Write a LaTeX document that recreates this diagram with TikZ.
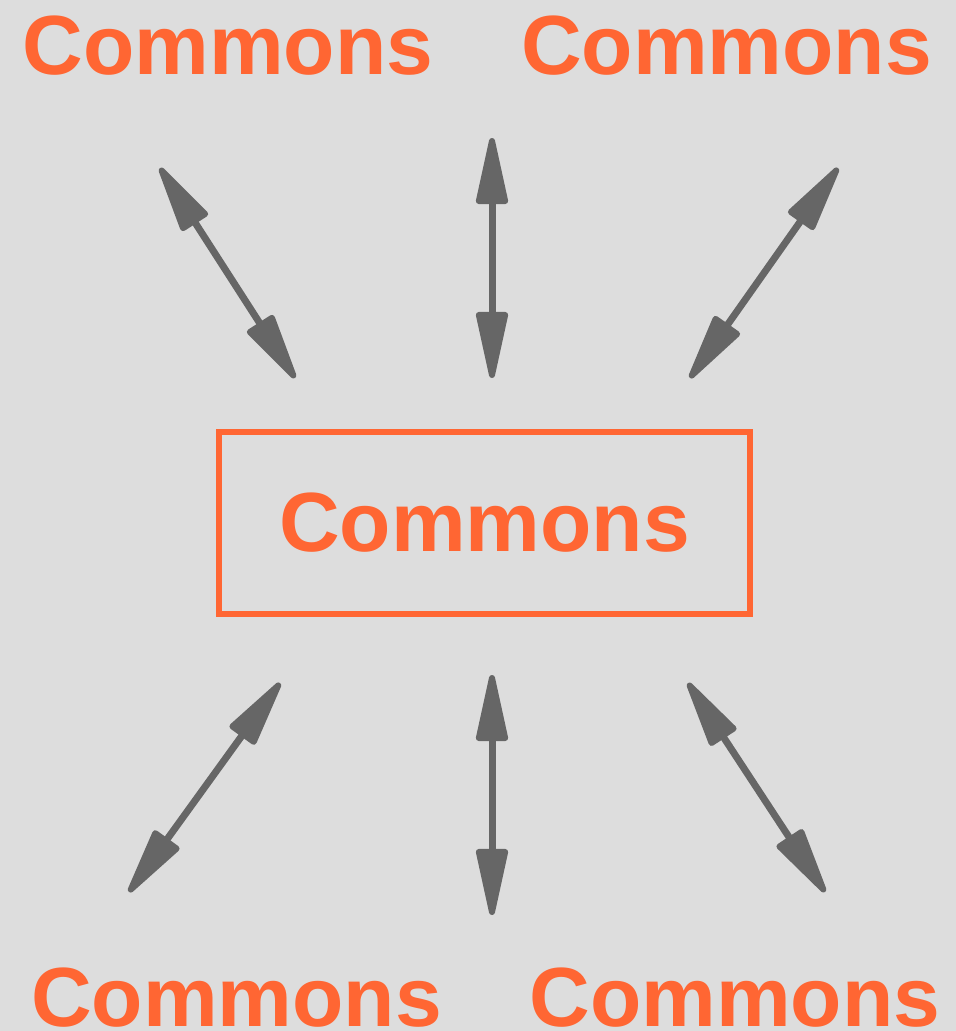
\documentclass[tikz,border=0pt]{standalone}
\usepackage{fontspec}
\setmainfont{Liberation Sans}
\usetikzlibrary{arrows.meta}
\definecolor{bgc}{HTML}{DDDDDD}
\definecolor{orng}{HTML}{FF6633}
\definecolor{arrc}{HTML}{666666}
\begin{document}
\begin{tikzpicture}[x=1pt,y=-1pt,
  lbl/.style={text=orng, font=\fontsize{84}{84}\selectfont\bfseries, inner sep=0pt, anchor=base},
  hub/.style={draw=orng, line width=6pt, text=orng, font=\fontsize{84}{84}\selectfont\bfseries,
    minimum width=531pt, minimum height=182pt, inner sep=0pt},
  link/.style={draw=arrc, line width=7pt, line cap=round,
    {Triangle[length=78pt,width=32pt,line width=6pt,round]}-{Triangle[length=78pt,width=32pt,line width=6pt,round]}}
]
\fill[bgc] (0,0) rectangle (956,1031);
\useasboundingbox (0,0) rectangle (956,1031);

\node[lbl] (tl) at (228,74) {Commons};
\node[lbl] (tr) at (726.5,74) {Commons};
\node[lbl] (bl) at (236.5,1026) {Commons};
\node[lbl] (br) at (735,1026) {Commons};
\node[hub] (c) at (484.5,523) {Commons};

\coordinate (a1s) at (160,168);  \coordinate (a1e) at (295,378);
\coordinate (a2s) at (492,138);  \coordinate (a2e) at (492,378);
\coordinate (a3s) at (838,168);  \coordinate (a3e) at (690,378);
\coordinate (a4s) at (280,683);  \coordinate (a4e) at (129,892);
\coordinate (a5s) at (492,675);  \coordinate (a5e) at (492,915);
\coordinate (a6s) at (688,683);  \coordinate (a6e) at (825,892);

\draw[link] (a1s) -- (a1e);
\draw[link] (a2s) -- (a2e);
\draw[link] (a3s) -- (a3e);
\draw[link] (a4s) -- (a4e);
\draw[link] (a5s) -- (a5e);
\draw[link] (a6s) -- (a6e);
\end{tikzpicture}
\end{document}
